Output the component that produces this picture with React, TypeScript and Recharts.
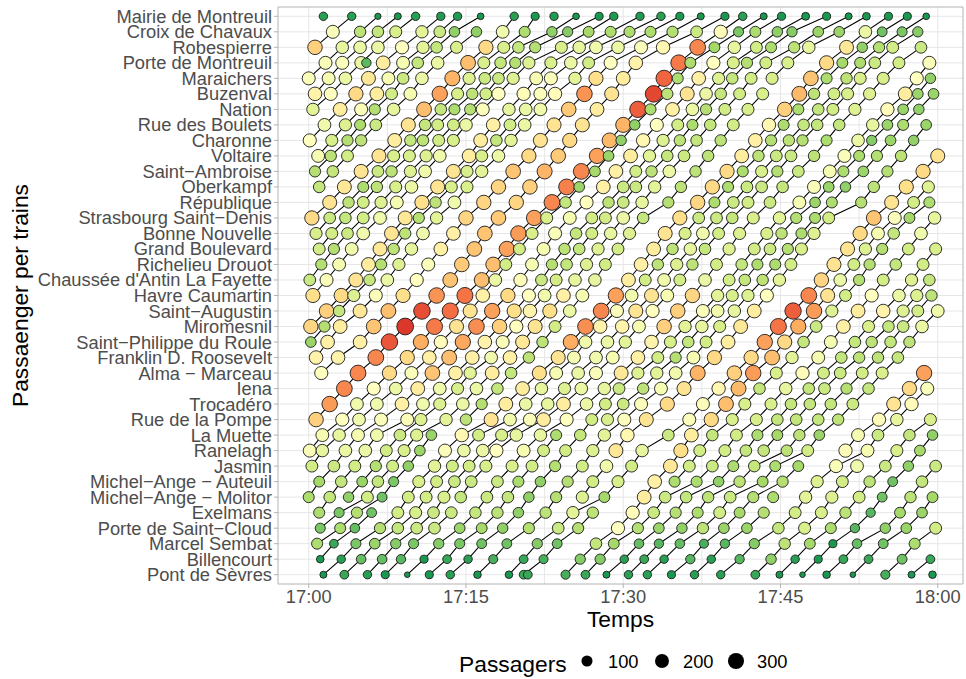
import { CartesianGrid, ReferenceArea, Scatter, ScatterChart, XAxis, YAxis } from "recharts";

type Stop = [number, number]; // minutes after 17:00, passengers

const stationNames = [
  "Mairie de Montreuil", "Croix de Chavaux", "Robespierre", "Porte de Montreuil", "Maraichers", "Buzenval", "Nation",
  "Rue des Boulets", "Charonne", "Voltaire", "Saint−Ambroise", "Oberkampf", "République", "Strasbourg Saint−Denis",
  "Bonne Nouvelle", "Grand Boulevard", "Richelieu Drouot", "Chaussée d'Antin La Fayette", "Havre Caumartin",
  "Saint−Augustin", "Miromesnil", "Saint−Philippe du Roule", "Franklin D. Roosevelt", "Alma − Marceau", "Iena",
  "Trocadéro", "Rue de la Pompe", "La Muette", "Ranelagh", "Jasmin", "Michel−Ange − Auteuil", "Michel−Ange − Molitor",
  "Exelmans", "Porte de Saint−Cloud", "Marcel Sembat", "Billencourt", "Pont de Sèvres",
];

const mairie: Stop[] = [[1.4,45],[4.1,45],[6.6,26],[8.5,30],[10.2,45],[12.6,42],[14.2,42],[16.4,28],[19.6,45],[21.6,40],[23.4,42],[25.5,28],[27.7,40],[29.1,42],[31.6,42],[33.6,45],[35.4,40],[37.4,30],[39.7,40],[41.4,45],[43.4,30],[45.1,40],[47.4,38],[49.4,40],[51.5,30],[53.2,36],[55.3,40],[57.1,40],[58.9,28]];
const croix: Stop[] = [[2.3,165],[4.9,110],[6.6,115],[8.3,130],[10.8,140],[12.5,120],[13.9,85],[16.0,85],[18.5,155],[20.6,100],[23.2,85],[24.7,80],[26.7,95],[28.8,100],[30.6,100],[32.6,100],[34.7,105],[37.0,120],[39.3,175],[41.0,75],[42.6,100],[44.7,85],[46.1,80],[48.6,90],[50.6,90],[53.1,150],[54.7,70],[56.6,75],[58.1,80]];
const robespierre: Stop[] = [[0.6,225],[3.2,145],[4.9,150],[6.6,150],[8.9,170],[10.9,140],[12.2,115],[14.1,130],[16.9,215],[18.6,130],[20.0,115],[21.6,105],[24.1,130],[25.8,145],[27.4,155],[29.5,150],[31.7,165],[33.8,180],[37.1,285],[38.7,95],[40.6,145],[42.7,125],[44.1,100],[46.3,110],[47.7,145],[51.3,200],[52.8,85],[54.4,105],[55.7,125],[58.4,120]];
const porteMontreuil: Stop[] = [[1.6,165],[3.2,165],[5.0,150],[5.5,62],[7.1,195],[9.0,160],[10.4,115],[12.3,150],[15.2,240],[16.7,130],[18.3,115],[19.7,105],[21.0,135],[23.1,130],[25.0,150],[26.7,125],[28.8,170],[31.2,185],[35.3,295],[36.4,100],[38.6,170],[40.5,130],[41.8,105],[43.6,125],[45.7,130],[49.4,215],[50.9,95],[52.6,100],[54.0,120],[56.3,125],[59.2,165]];
const maraichers: Stop[] = [[0.0,165],[1.9,160],[3.5,150],[5.7,200],[7.6,160],[9.0,120],[10.8,150],[13.7,250],[15.3,135],[16.8,120],[18.1,120],[19.5,135],[21.7,160],[23.1,165],[25.4,140],[27.4,210],[30.0,195],[33.9,310],[35.2,100],[37.2,190],[39.1,135],[40.4,115],[42.2,125],[44.2,130],[47.9,235],[49.4,100],[51.3,110],[52.6,130],[54.8,130],[58.0,170],[59.3,85]];
const buzenval: Stop[] = [[0.6,185],[2.1,170],[4.5,215],[6.5,195],[7.9,125],[9.7,160],[12.5,265],[14.2,130],[15.6,110],[16.9,125],[18.1,170],[20.5,175],[22.1,165],[23.5,175],[26.3,275],[28.9,205],[32.9,330],[34.2,110],[36.1,205],[37.9,150],[39.3,115],[41.1,125],[43.3,130],[46.8,245],[48.2,110],[50.1,125],[51.4,130],[53.5,135],[56.9,195],[58.1,90],[59.6,90]];
const nation: Stop[] = [[0.4,140],[3.0,195],[5.0,165],[6.3,105],[8.1,145],[11.0,240],[12.6,115],[13.9,100],[15.4,105],[16.6,165],[19.1,145],[20.7,150],[22.1,155],[24.8,230],[27.5,195],[31.4,315],[32.6,100],[34.7,190],[36.6,150],[37.9,105],[39.7,125],[41.9,130],[45.4,225],[46.7,100],[48.6,115],[50.0,125],[52.1,135],[55.2,175],[56.7,90],[58.2,85]];
const rueBoulets: Stop[] = [[1.5,155],[3.5,135],[4.9,100],[6.4,120],[9.5,205],[11.1,115],[12.3,125],[13.8,125],[15.0,150],[17.6,190],[19.2,125],[20.6,150],[23.4,205],[26.1,205],[30.0,250],[31.1,85],[33.2,170],[35.2,125],[36.6,100],[38.3,115],[40.5,125],[43.9,180],[45.3,100],[47.2,115],[48.5,115],[50.6,115],[53.8,145],[55.2,90],[56.7,100],[58.9,90]];
const charonne: Stop[] = [[0.1,170],[2.2,130],[3.7,105],[5.0,110],[8.2,195],[9.7,115],[10.9,110],[12.4,125],[13.8,130],[16.4,195],[17.9,115],[19.3,140],[22.1,205],[24.9,215],[28.7,245],[29.8,85],[31.9,180],[33.8,135],[35.4,110],[37.0,115],[39.3,110],[42.6,190],[44.1,105],[45.8,110],[47.1,105],[49.4,100],[52.4,150],[53.7,80],[55.5,90],[57.7,85]];
const voltaire: Stop[] = [[0.9,160],[2.1,110],[3.7,125],[6.7,205],[8.1,130],[9.6,130],[11.2,135],[12.5,155],[15.3,195],[16.5,130],[18.1,150],[21.0,215],[23.8,230],[27.5,265],[28.6,90],[30.7,195],[32.5,140],[34.2,115],[35.8,120],[38.1,110],[41.3,195],[42.9,110],[44.6,120],[46.0,120],[48.2,110],[51.1,165],[52.5,100],[54.2,105],[56.5,110],[60.0,205]];
const saintAmbroise: Stop[] = [[0.6,105],[2.3,115],[5.0,205],[6.6,120],[7.9,110],[9.7,135],[11.1,155],[13.8,205],[15.1,130],[16.5,140],[19.5,235],[22.5,250],[26.0,285],[27.3,95],[29.3,190],[31.2,125],[32.7,110],[34.4,150],[36.9,110],[39.9,215],[41.4,100],[43.2,130],[44.7,105],[46.7,120],[49.7,160],[51.0,100],[52.9,90],[55.2,105],[58.6,215]];
const oberkampf: Stop[] = [[1.0,115],[3.4,200],[5.2,100],[6.5,110],[8.3,130],[9.8,150],[12.3,205],[13.6,130],[15.1,130],[18.1,220],[21.1,225],[24.6,290],[25.8,90],[28.1,190],[30.0,120],[31.2,120],[33.0,140],[35.5,110],[38.5,215],[40.0,100],[41.8,120],[43.2,120],[45.2,115],[48.2,165],[49.6,90],[51.2,85],[53.9,110],[57.0,210],[59.1,135]];
const republique: Stop[] = [[2.0,205],[3.8,110],[5.2,125],[6.9,135],[8.4,160],[10.8,210],[12.1,110],[13.9,155],[16.7,220],[19.8,220],[23.2,285],[24.5,115],[26.5,170],[28.6,110],[30.0,120],[31.8,145],[34.3,105],[37.1,220],[38.7,100],[40.5,120],[41.9,125],[44.0,120],[46.8,160],[48.3,90],[49.9,100],[52.7,105],[55.6,205],[57.7,125],[59.2,100]];
const strasbourg: Stop[] = [[0.3,215],[2.0,120],[3.5,115],[5.2,125],[6.8,155],[9.2,200],[10.5,105],[12.2,140],[15.0,220],[18.1,230],[21.5,265],[22.7,130],[24.9,160],[27.0,125],[28.3,125],[30.0,150],[31.9,115],[35.4,210],[37.2,120],[38.9,120],[40.4,115],[42.4,130],[44.9,140],[46.5,105],[48.3,100],[49.6,125],[53.9,235],[55.9,165],[57.3,95],[59.7,145]];
const bonneNouvelle: Stop[] = [[0.7,130],[2.2,125],[3.7,120],[5.2,155],[7.9,205],[9.2,110],[10.9,155],[13.8,190],[16.8,235],[20.0,270],[21.3,130],[23.5,165],[25.5,115],[27.0,125],[28.8,145],[30.6,135],[34.0,205],[35.9,130],[37.6,155],[39.1,125],[41.1,135],[43.7,130],[45.1,110],[47.0,100],[48.2,135],[52.6,215],[54.3,160],[55.8,115],[58.4,155]];
const grandBoulevard: Stop[] = [[1.0,125],[2.4,105],[4.1,155],[6.8,200],[8.1,110],[9.8,145],[12.6,190],[15.8,235],[18.9,265],[20.1,125],[22.4,160],[24.4,110],[25.8,115],[27.6,135],[29.5,125],[32.9,195],[34.7,110],[36.4,145],[37.8,115],[40.1,135],[42.5,125],[44.0,120],[45.7,105],[47.0,130],[51.4,205],[53.1,135],[54.7,105],[57.2,125],[59.8,130]];
const richelieu: Stop[] = [[1.2,105],[2.9,160],[5.7,195],[6.9,105],[8.6,135],[11.4,165],[14.6,230],[17.6,240],[18.8,125],[21.3,160],[23.2,105],[24.6,115],[26.5,135],[28.3,125],[31.7,190],[33.3,110],[35.1,135],[36.6,110],[38.9,125],[41.3,115],[42.8,100],[44.5,100],[46.0,125],[50.1,205],[52.0,125],[53.5,105],[56.0,115],[58.6,125]];
const chaussee: Stop[] = [[0.1,120],[1.7,165],[4.5,205],[5.8,115],[7.5,150],[10.3,170],[13.5,235],[16.5,240],[17.8,150],[20.2,175],[22.2,120],[23.6,125],[25.4,145],[27.3,145],[30.5,195],[32.1,125],[33.9,155],[35.4,125],[37.8,150],[40.1,125],[41.6,115],[43.3,110],[44.9,140],[48.9,220],[50.7,150],[52.5,105],[54.8,125],[57.5,135],[59.2,115]];
const havre: Stop[] = [[0.4,210],[3.1,215],[4.3,135],[6.4,165],[9.0,210],[12.2,275],[14.9,300],[16.6,190],[19.0,215],[21.0,170],[22.5,155],[24.3,190],[26.1,160],[29.3,265],[30.8,155],[32.7,205],[34.2,160],[36.6,220],[39.0,140],[40.4,130],[41.9,135],[43.7,170],[47.7,285],[49.5,205],[51.2,125],[53.7,170],[56.3,150],[58.0,135],[59.4,110]];
const saintAugustin: Stop[] = [[1.7,225],[2.9,115],[4.9,200],[7.6,240],[10.8,325],[13.5,305],[15.4,205],[17.5,265],[19.6,210],[21.1,185],[23.0,210],[24.9,150],[27.9,285],[29.4,165],[31.2,205],[32.8,170],[35.2,225],[37.6,165],[39.0,155],[40.6,145],[42.5,195],[46.2,315],[48.2,270],[49.9,135],[52.4,195],[54.8,185],[56.7,135],[58.1,125],[60.0,155]];
const miromesnil: Stop[] = [[0.2,220],[1.5,105],[3.0,195],[6.2,235],[9.2,340],[12.0,295],[14.1,205],[16.0,280],[18.2,225],[19.8,170],[21.6,205],[23.5,125],[26.4,280],[27.8,185],[29.9,185],[31.5,160],[33.9,225],[35.9,140],[37.5,145],[39.2,130],[41.2,200],[44.8,300],[46.7,255],[48.4,120],[51.0,190],[53.4,130],[55.3,115],[56.7,120],[58.5,150]];
const saintPhilippe: Stop[] = [[0.2,90],[1.8,190],[4.9,190],[7.7,320],[10.7,255],[12.6,175],[14.7,260],[16.8,185],[18.5,165],[20.4,200],[22.3,110],[25.0,255],[26.4,155],[28.5,150],[30.2,140],[32.7,185],[34.5,130],[36.2,115],[37.9,125],[40.0,195],[43.5,265],[45.4,215],[47.2,115],[49.8,160],[52.1,115],[53.7,110],[55.5,115],[57.3,110]];
const franklin: Stop[] = [[0.7,185],[2.8,185],[6.4,285],[9.4,215],[11.5,190],[13.4,240],[15.6,190],[17.4,155],[19.2,190],[21.0,110],[23.8,205],[25.3,160],[27.4,155],[29.0,160],[31.4,190],[33.3,125],[35.0,105],[36.7,160],[38.7,215],[42.2,215],[44.2,240],[46.1,140],[48.6,160],[50.8,115],[52.5,110],[54.3,110],[56.2,115]];
const alma: Stop[] = [[1.2,170],[4.7,285],[7.7,215],[9.8,165],[11.8,235],[14.0,190],[15.4,140],[17.5,195],[19.3,115],[22.0,210],[23.6,160],[25.7,150],[27.4,165],[29.8,200],[31.4,135],[33.2,140],[35.0,155],[37.1,250],[40.6,225],[42.4,270],[44.6,130],[47.1,175],[49.1,125],[50.7,120],[52.8,125],[54.7,130],[58.7,265]];
const iena: Stop[] = [[3.4,285],[6.2,170],[8.3,150],[10.4,195],[12.5,155],[14.2,130],[16.0,150],[18.0,115],[20.4,195],[22.2,145],[24.4,135],[26.0,150],[28.2,145],[29.6,120],[31.9,110],[33.6,160],[35.8,205],[39.1,180],[41.0,245],[43.0,115],[45.5,145],[47.7,115],[49.2,120],[51.3,105],[53.4,115],[57.3,215],[59.0,165]];
const trocadero: Stop[] = [[2.0,270],[4.6,155],[6.5,155],[8.9,190],[10.9,155],[12.5,135],[14.7,150],[16.5,105],[18.8,195],[20.7,150],[22.8,145],[24.3,195],[26.5,150],[28.3,125],[30.0,120],[31.7,165],[34.2,215],[37.6,165],[39.8,240],[41.6,130],[44.1,130],[46.0,115],[47.8,115],[49.8,115],[51.9,120],[55.8,205],[57.5,175]];
const ruePompe: Stop[] = [[0.7,225],[3.2,170],[4.8,155],[6.9,165],[9.4,165],[10.7,135],[13.1,140],[15.0,110],[17.4,205],[19.2,155],[21.1,165],[22.4,195],[24.6,170],[27.0,125],[28.5,130],[30.1,165],[32.2,205],[36.3,165],[38.4,215],[40.4,130],[42.7,130],[44.7,115],[46.5,115],[48.6,115],[50.5,110],[54.4,175],[56.1,145],[59.3,130]];
const muette: Stop[] = [[1.3,160],[2.9,145],[4.7,160],[6.5,155],[8.7,120],[10.3,135],[11.7,90],[14.6,180],[16.2,125],[18.4,130],[19.8,145],[22.1,145],[23.6,100],[25.9,115],[28.2,140],[30.4,180],[34.3,120],[36.5,195],[38.5,115],[40.8,125],[42.8,100],[44.7,95],[46.8,110],[48.7,90],[52.4,160],[54.3,120],[57.3,115],[59.5,85]];
const ranelagh: Stop[] = [[0.1,165],[1.3,145],[3.5,150],[5.4,150],[7.4,125],[9.1,130],[10.6,90],[13.0,165],[14.8,150],[16.6,150],[17.9,170],[20.5,160],[22.4,125],[24.5,125],[27.1,135],[29.3,200],[31.8,145],[35.5,210],[37.3,125],[39.7,125],[41.7,115],[43.4,115],[45.6,110],[47.6,125],[51.2,175],[53.3,160],[56.1,130],[58.3,95]];
const jasmin: Stop[] = [[0.3,125],[2.4,120],[4.4,125],[6.4,105],[8.0,125],[9.5,85],[12.0,140],[13.7,125],[15.3,125],[16.9,130],[19.4,130],[21.3,125],[23.5,105],[26.1,125],[28.4,155],[30.8,125],[34.5,200],[36.3,125],[38.5,120],[40.5,100],[42.5,115],[44.5,100],[46.7,95],[50.3,165],[52.3,155],[55.0,120],[57.2,85],[59.8,120]];
const auteuil: Stop[] = [[1.0,95],[3.1,115],[5.1,90],[6.6,115],[8.1,75],[10.5,130],[12.2,125],[13.9,120],[15.5,120],[18.0,120],[20.0,100],[22.1,85],[24.7,105],[27.1,125],[29.5,130],[33.0,190],[34.9,100],[37.0,100],[39.1,85],[41.1,110],[43.3,95],[45.2,105],[48.5,135],[50.9,125],[53.5,110],[55.7,70],[58.5,115]];
const molitor: Stop[] = [[0.0,100],[2.0,115],[3.8,85],[5.6,125],[7.0,70],[9.5,125],[11.2,125],[12.9,130],[14.5,115],[17.0,120],[19.0,115],[21.0,85],[23.6,105],[26.1,135],[28.2,95],[32.0,195],[34.0,120],[36.0,115],[38.1,110],[40.2,120],[42.4,105],[44.3,100],[47.4,140],[49.9,135],[52.5,125],[54.7,70],[57.4,110],[59.5,95]];
const exelmans: Stop[] = [[1.0,100],[2.9,75],[4.6,105],[6.0,70],[8.5,125],[10.2,130],[11.9,120],[13.6,120],[15.9,115],[18.0,110],[20.0,85],[22.6,110],[25.2,140],[27.1,110],[30.9,175],[32.9,120],[35.0,105],[37.1,100],[39.2,125],[41.1,95],[43.4,105],[46.4,125],[48.9,130],[51.2,110],[53.6,60],[56.4,95],[58.5,90]];
const saintCloud: Stop[] = [[1.1,75],[3.0,100],[4.4,65],[6.8,105],[8.5,115],[10.3,120],[12.0,120],[14.4,90],[16.5,95],[18.5,85],[21.0,105],[23.8,120],[25.7,105],[29.5,170],[31.4,105],[33.4,90],[35.6,85],[37.6,110],[39.6,90],[41.8,90],[44.8,115],[47.3,130],[49.8,100],[52.1,60],[55.0,85],[57.0,90],[59.8,125]];
const marcelSembat: Stop[] = [[0.8,100],[2.4,50],[4.5,75],[6.3,90],[8.3,80],[10.0,75],[12.4,80],[14.4,75],[16.5,70],[18.9,70],[21.8,80],[23.7,70],[27.4,115],[29.1,95],[31.5,65],[33.4,60],[35.4,65],[37.7,55],[39.7,60],[42.5,80],[45.4,110],[47.8,95],[50.0,40],[52.3,65],[54.8,70],[57.8,100]];
const billancourt: Stop[] = [[1.1,35],[3.1,45],[5.0,65],[7.0,65],[8.8,60],[11.0,40],[13.2,50],[15.2,45],[17.6,55],[20.5,50],[22.4,55],[25.9,80],[27.8,80],[30.1,45],[32.0,50],[33.9,45],[36.4,60],[38.4,45],[41.1,60],[44.1,85],[46.4,45],[48.6,40],[51.0,50],[53.4,50],[56.6,70],[59.3,50]];
const pontSevres: Stop[] = [[1.4,30],[3.4,50],[5.6,45],[7.3,40],[9.4,25],[11.5,40],[13.5,45],[16.1,35],[19.1,35],[20.5,50],[20.9,50],[24.5,55],[26.4,50],[28.4,30],[30.5,45],[32.3,45],[34.6,40],[36.8,45],[39.3,45],[42.6,50],[44.9,30],[47.1,25],[49.4,35],[51.9,25],[55.0,55],[57.5,30],[59.5,35]];

const rows = [
  mairie, croix, robespierre, porteMontreuil, maraichers, buzenval, nation, rueBoulets, charonne, voltaire,
  saintAmbroise, oberkampf, republique, strasbourg, bonneNouvelle, grandBoulevard, richelieu, chaussee, havre,
  saintAugustin, miromesnil, saintPhilippe, franklin, alma, iena, trocadero, ruePompe, muette, ranelagh, jasmin,
  auteuil, molitor, exelmans, saintCloud, marcelSembat, billancourt, pontSevres,
];

const timeTicks = [0, 15, 30, 45, 60];
const gridTimes = [0, 7.5, 15, 22.5, 30, 37.5, 45, 52.5, 60];
const legendSizes = [100, 200, 300];
const stationTicks = stationNames.map((_, i) => i);
const colorBreaks = [40, 65, 95, 130, 170, 210, 255, 305, 345];
const colorStops = ["#1A9850", "#66BD63", "#A6D96A", "#D9EF8B", "#FFFFBF", "#FEE08B", "#FDAE61", "#F46D43", "#D73027"];

const xDomain: [number, number] = [-2.93, 62.41];
const yDomain: [number, number] = [-0.6, 36.6];

type Point = { t: number; y: number; p: number };

const allPoints: Point[][] = rows.map((row, y) => row.map(([t, p]) => ({ t, y, p })));

// a train goes up the line: follow each stop to the next one it can reach on the row above
function buildTrains() {
  const nextStop = new Map<Point, Point>();
  const hasPrev = new Set<Point>();
  for (let y = allPoints.length - 1; y > 0; y--) {
    const upper = allPoints[y - 1];
    let j = 0;
    for (const pt of allPoints[y]) {
      while (j < upper.length && upper[j].t < pt.t + 1) j++;
      if (j >= upper.length) break;
      if (upper[j].t - pt.t > 3.3) continue;
      nextStop.set(pt, upper[j]);
      hasPrev.add(upper[j]);
      j++;
    }
  }
  const trains: Point[][] = [];
  allPoints.flat().forEach((pt) => {
    if (hasPrev.has(pt) || !nextStop.has(pt)) return;
    const train = [pt];
    let cur = pt;
    while (nextStop.has(cur)) {
      cur = nextStop.get(cur) as Point;
      train.push(cur);
    }
    trains.push(train);
  });
  return trains;
}

const trains = buildTrains();
const dots = [...allPoints].reverse().flat();

const radius = (p: number) => 2.8 + 5.6 * Math.sqrt(Math.max(p - 25, 0) / 315);

function hexToRgb(hex: string) {
  return [1, 3, 5].map((i) => parseInt(hex.slice(i, i + 2), 16));
}

function loadColor(p: number) {
  let i = 0;
  while (i < colorBreaks.length - 2 && p > colorBreaks[i + 1]) i++;
  const f = Math.min(Math.max((p - colorBreaks[i]) / (colorBreaks[i + 1] - colorBreaks[i]), 0), 1);
  const a = hexToRgb(colorStops[i]);
  const b = hexToRgb(colorStops[i + 1]);
  const c = a.map((v, k) => Math.round(v + (b[k] - v) * f));
  return `rgb(${c[0]},${c[1]},${c[2]})`;
}

const formatTime = (m: number) => `${17 + Math.floor(m / 60)}:${String(m % 60).padStart(2, "0")}`;

function StopDot(props: any) {
  const { cx, cy, payload } = props;
  return <circle cx={cx} cy={cy} r={radius(payload.p)} fill={loadColor(payload.p)} stroke="#1c1c1c" strokeWidth={0.9} />;
}

function SizeLegend() {
  const dotX = [587, 662, 736];
  return (
    <div style={{ position: "absolute", left: 0, top: 639, width: 966, height: 40, fontFamily: "'Liberation Sans', Arial, sans-serif", color: "#000" }}>
      <span style={{ position: "absolute", left: 459, top: 12, fontSize: 22.8, lineHeight: "26px" }}>Passagers</span>
      {legendSizes.map((s, i) => (
        <span key={s}>
          <svg style={{ position: "absolute", left: dotX[i] - 10, top: 12 }} width={20} height={20}>
            <circle cx={10} cy={10} r={radius(s)} fill="#000" />
          </svg>
          <span style={{ position: "absolute", left: dotX[i] + 21, top: 12, fontSize: 18.3, lineHeight: "21px" }}>{s}</span>
        </span>
      ))}
    </div>
  );
}

export default function App() {
  return (
    <div style={{ position: "absolute", left: 0, top: 0, width: 966, height: 679, background: "#fff" }}>
      <ScatterChart width={966} height={679} margin={{ top: 7, right: 3, bottom: 45, left: 0 }} style={{ fontFamily: "'Liberation Sans', Arial, sans-serif" }}>
        <CartesianGrid stroke="#e6e6e6" strokeWidth={1} verticalValues={gridTimes} horizontalValues={stationTicks} />
        <XAxis
          type="number"
          dataKey="t"
          domain={xDomain}
          ticks={timeTicks}
          tickFormatter={formatTime}
          allowDataOverflow
          axisLine={false}
          tickLine={{ stroke: "#b3b3b3" }}
          tickSize={4}
          height={50}
          tick={{ fill: "#4d4d4d", fontSize: 18.3 }}
          label={{ value: "Temps", position: "insideBottom", offset: 7, fill: "#000", fontSize: 22.8 }}
        />
        <YAxis
          type="number"
          dataKey="y"
          reversed
          domain={yDomain}
          ticks={stationTicks}
          interval={0}
          tickFormatter={(i: number) => stationNames[i]}
          allowDataOverflow
          axisLine={false}
          tickLine={{ stroke: "#b3b3b3" }}
          tickSize={4}
          width={278}
          tick={{ fill: "#4d4d4d", fontSize: 18.3 }}
          label={{ value: "Passaenger per trains", angle: -90, position: "insideLeft", offset: 20, fill: "#000", fontSize: 22.8, style: { textAnchor: "middle" } }}
        />
        <ReferenceArea x1={xDomain[0]} x2={xDomain[1]} y1={yDomain[0]} y2={yDomain[1]} fill="none" stroke="#b3b3b3" strokeWidth={1} />
        {trains.map((train, i) => (
          <Scatter key={i} data={train} isAnimationActive={false} line={{ stroke: "#000", strokeWidth: 1.1 }} shape={() => <g />} legendType="none" />
        ))}
        <Scatter data={dots} isAnimationActive={false} shape={StopDot} legendType="none" />
      </ScatterChart>
      <SizeLegend />
    </div>
  );
}
